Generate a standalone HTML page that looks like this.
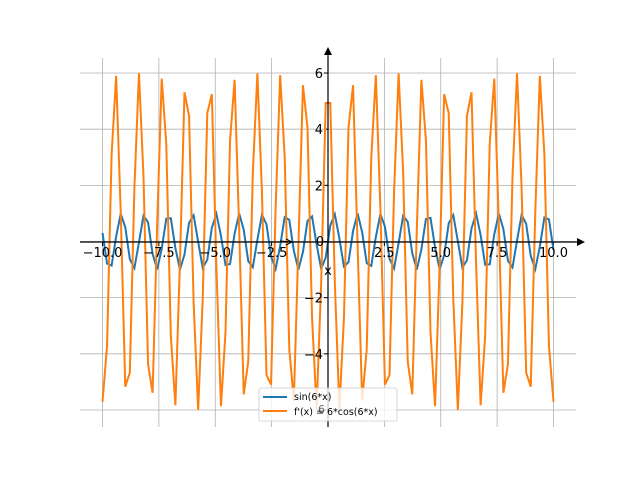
<!DOCTYPE html>
<html><head><style>body{margin:0;background:#fff}svg{display:block}text{font-family:"DejaVu Sans","Liberation Sans",sans-serif}</style></head>
<body>
<svg id="s" width="640" height="480" xmlns="http://www.w3.org/2000/svg">
<rect width="640" height="480" fill="#fff"/>
<g id="grid" stroke="#b0b0b0" stroke-width="0.8"></g>
<g id="axes" stroke="#000" stroke-width="1"></g>
<polyline id="p1" fill="none" stroke="#1f77b4" stroke-width="2"/>
<polyline id="p2" fill="none" stroke="#ff7f0e" stroke-width="2"/>
<g id="lbl" font-size="13" fill="#000"></g>
<line x1="328" y1="54" x2="328" y2="427" stroke="#000" stroke-width="1.2"/>
<line x1="80" y1="242" x2="578" y2="242" stroke="#000" stroke-width="1.2"/>
<polygon points="585,242 577,238 577,246" fill="#000"/>
<polygon points="328,47 324,55 332,55" fill="#000"/>
<text x="328" y="275" font-size="13" text-anchor="middle">x</text>
<text x="320" y="246" font-size="13" text-anchor="middle">0</text>
<path d="M280,241 L292,242 M286,239 L292,242 L286,245" stroke="#000" fill="none" stroke-width="1"/>
<rect x="259" y="388" width="138" height="33" rx="2" fill="#fff" fill-opacity="0.8" stroke="#ccc" stroke-width="0.8"/>
<line x1="263" y1="397" x2="287" y2="397" stroke="#1f77b4" stroke-width="2"/>
<line x1="263" y1="411" x2="287" y2="411" stroke="#ff7f0e" stroke-width="2"/>
<text x="294" y="400" font-size="9.5">sin(6*x)</text>
<text x="294" y="415" font-size="9.5">f'(x) = 6*cos(6*x)</text>
<text x="318" y="413" font-size="11" fill="#000" opacity="0.6">6</text>
</svg>
<script>
var X=function(x){return 328+x*22.55},Y=function(y){return 241.5-y*28.08};
var g=document.getElementById('grid'),l=document.getElementById('lbl'),ns='http://www.w3.org/2000/svg';
function el(p,t,a){var e=document.createElementNS(ns,t);for(var k in a)e.setAttribute(k,a[k]);p.appendChild(e);return e;}
[-10,-7.5,-5,-2.5,0,2.5,5,7.5,10].forEach(function(v){var x=X(v);el(g,'line',{x1:x,y1:58,x2:x,y2:427});
el(document.getElementById('axes'),'line',{x1:x,y1:242,x2:x,y2:246});
if(v!==0){var t=el(l,'text',{x:x,y:257,'text-anchor':'middle'});t.textContent=(v<0?'\u2212':'')+Math.abs(v).toFixed(1);}});
[-6,-4,-2,0,2,4,6].forEach(function(v){var y=Y(v);el(g,'line',{x1:80,y1:y,x2:576,y2:y});
el(document.getElementById('axes'),'line',{x1:324,y1:y,x2:328,y2:y});
if(v!==0&&v!==-6){var t=el(l,'text',{x:323,y:y+5,'text-anchor':'end'});t.textContent=(v<0?'\u2212':'')+Math.abs(v);}});
var a=[],b=[];for(var i=0;i<100;i++){var x=-10+20*i/99;a.push(X(x)+','+Y(Math.sin(6*x)));b.push(X(x)+','+Y(6*Math.cos(6*x)));}
document.getElementById('p1').setAttribute('points',a.join(' '));
document.getElementById('p2').setAttribute('points',b.join(' '));
</script>
</body></html>
